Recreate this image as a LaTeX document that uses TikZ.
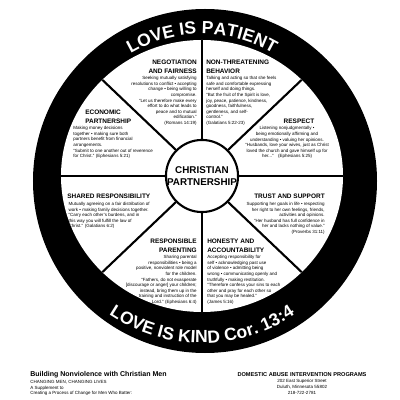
\documentclass[tikz,border=0pt]{standalone}
\usepackage{fontspec}
\setmainfont{Liberation Sans}
\usetikzlibrary{positioning, decorations.text}

\newcommand{\hdfont}{\fontsize{4.6}{5.9}\selectfont\bfseries}
\newcommand{\bdfont}{\fontsize{3.2}{3.95}\selectfont}
\newcommand{\ringfont}{\fontsize{12.5}{12.5}\selectfont\bfseries}

\tikzset{
  head/.style={font=\hdfont, inner sep=0pt},
  body/.style={font=\bdfont, inner sep=0pt},
  spoke/.style={line width=1.5pt},
  ringtext/.style={decorate, decoration={text along path, text align=center, text color=white}},
}

\begin{document}
\begin{tikzpicture}[x=0.025cm, y=0.025cm]
  \useasboundingbox (-202,-224) rectangle (198,176);
  % the wheel
  \fill[black] (3,-5) circle (172);
  \fill[white] (0,0) ellipse [x radius=141, y radius=136];
  \node[circle, draw, line width=1.5pt, fill=white, minimum size=1.8cm, inner sep=0pt,
        align=center, font=\fontsize{7}{8.3}\selectfont\bfseries] (hub) {CHRISTIAN\\PARTNERSHIP};
  \foreach \a in {0,45,...,315}
    \draw[spoke] (hub.\a) -- (\a:141 and 136);

  % ring texts
  \path[ringtext, decoration={text={|\ringfont|LOVE IS PATIENT}}]
    (155:142) arc[start angle=155, end angle=25, radius=142];
  \path[ringtext, decoration={text={|\ringfont|LOVE IS KIND Cor. 13:4}}]
    (-145:167) arc[start angle=-145, end angle=-35, radius=167];

  % upper left
  \node[head, align=right, anchor=north east] (negoH) at (-5,116) {NEGOTIATION\\AND FAIRNESS};
  \node[body, align=right, below left=2pt and 0pt of negoH.south east] (negoB)
    {Seeking mutually satisfying\\resolutions to conflict • accepting\\change • being willing to\\compromise.\\“Let us therefore make every\\effort to do what leads to\\peace and to mutual\\edification.”\\(Romans 14:19)};

  % upper right
  \node[head, align=left, anchor=north west] (nonH) at (4,116) {NON-THREATENING\\BEHAVIOR};
  \node[body, align=left, below right=2pt and 0pt of nonH.south west] (nonB)
    {Talking and acting so that she feels\\safe and comfortable expressing\\herself and doing things.\\“But the fruit of the Spirit is love,\\joy, peace, patience, kindness,\\goodness, faithfulness,\\gentleness, and self-\\control.”\\(Galatians 5:22-23)};

  % right
  \node[head] (respH) at (97,55) {RESPECT};
  \node[body, align=center, below=2pt of respH, xshift=-8.5pt] (respB)
    {Listening nonjudgmentally •\\being emotionally affirming and\\understanding • valuing her opinions.\\“Husbands, love your wives, just as Christ\\loved the church and gave himself up for\\her...”\quad(Ephesians 5:25)};

  \node[head, anchor=north east] (trustH) at (123,-18) {TRUST AND SUPPORT};
  \node[body, align=right, below left=2pt and 0pt of trustH.south east] (trustB)
    {Supporting her goals in life • respecting\\her right to her own feelings, friends,\\activities and opinions.\\“Her husband has full confidence in\\her and lacks nothing of value.”\\(Proverbs 31:11)};

  % lower right
  \node[head, align=left, anchor=north west] (honH) at (5,-63) {HONESTY AND\\ACCOUNTABILITY};
  \node[body, align=left, below right=2pt and 0pt of honH.south west] (honB)
    {Accepting responsibility for\\self • acknowledging past use\\of violence • admitting being\\wrong • communicating openly and\\truthfully • making restitution.\\“Therefore confess your sins to each\\other and pray for each other so\\that you may be healed.”\\(James 5:16)};

  % lower left
  \node[head, align=right, anchor=north east] (parH) at (-5,-63) {RESPONSIBLE\\PARENTING};
  \node[body, align=right, below left=2pt and 0pt of parH.south east] (parB)
    {Sharing parental\\responsibilities • being a\\positive, nonviolent role model\\for the children.\\“Fathers, do not exasperate\\{[}discourage or anger{]} your children;\\instead, bring them up in the\\training and instruction of the\\Lord.” (Ephesians 6:4)};

  % left
  \node[head, anchor=north west] (sharH) at (-135,-18) {SHARED RESPONSIBILITY};
  \node[body, align=left, below right=2pt and 1pt of sharH.south west] (sharB)
    {Mutually agreeing on a fair distribution of\\work • making family decisions together.\\“Carry each other’s burdens, and in\\this way you will fulfill the law of\\Christ.” (Galatians 6:2)};

  \node[head, align=left, anchor=north west] (ecoH) at (-117,66) {ECONOMIC\\PARTNERSHIP};
  \node[body, align=left, below right=2pt and -8.5pt of ecoH.south west] (ecoB)
    {Making money decisions\\together • making sure both\\partners benefit from financial\\arrangements.\\“Submit to one another out of reverence\\for Christ.” (Ephesians 5:21)};

  % footer
  \node[font=\fontsize{5}{6}\selectfont\bfseries, anchor=north west, inner sep=0pt] (bookT)
    at (-172,-195) {Building Nonviolence with Christian Men};
  \node[body, align=left, below right=1.5pt and 0pt of bookT.south west] (bookB)
    {CHANGING MEN, CHANGING LIVES\\A Supplement to\\Creating a Process of Change for Men Who Batter:};
  \node[font=\fontsize{4}{5}\selectfont\bfseries, inner sep=0pt] (dapT) at (100,-199)
    {DOMESTIC ABUSE INTERVENTION PROGRAMS};
  \node[body, align=center, below=1.5pt of dapT] (dapB)
    {202 East Superior Street\\Duluth, Minnesota 55802\\218-722-2781};
\end{tikzpicture}
\end{document}
